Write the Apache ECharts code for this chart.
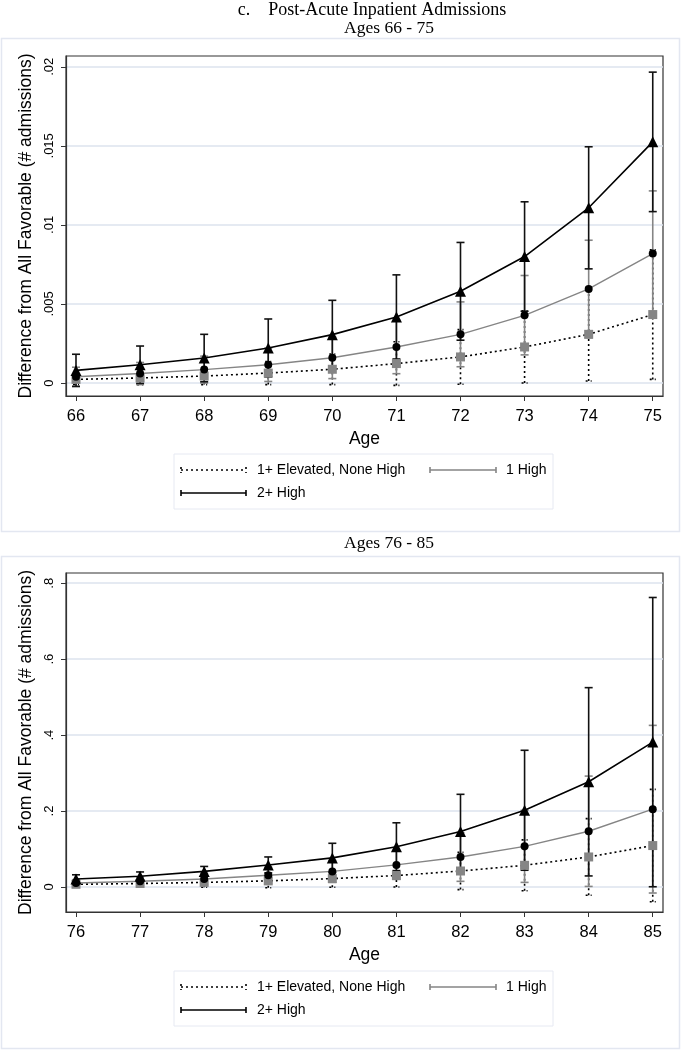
<!DOCTYPE html>
<html>
<head>
<meta charset="utf-8">
<script src="https://cdn.jsdelivr.net/npm/echarts@6/dist/echarts.min.js"></script>
<style>
html,body{margin:0;padding:0;background:#fff;}
#c{width:681px;height:1050px;}
</style>
</head>
<body>
<div id="c"></div>
<script>
// ---------- Data ----------
var ages1 = [66, 67, 68, 69, 70, 71, 72, 73, 74, 75];
var elev1   = [0.00023, 0.00032, 0.00044, 0.00063, 0.00087, 0.00123, 0.00165, 0.00228, 0.00308, 0.00433];
var elev1Lo = [-0.0001, -0.0001, -0.0001, -0.0001, -0.0001, -0.00015, -0.00008, 0.0, 0.00013, 0.00023];
var elev1Hi = [0.00056, 0.00074, 0.00098, 0.00136, 0.00184, 0.00261, 0.00338, 0.00456, 0.00603, 0.00843];
var high1   = [0.0004, 0.0006, 0.00085, 0.00116, 0.0016, 0.00228, 0.00308, 0.00428, 0.00595, 0.00819];
var high1Lo = [-0.0002, -0.0001, 0.0, 0.0001, 0.00028, 0.00059, 0.00103, 0.00178, 0.00287, 0.00423];
var high1Hi = [0.001, 0.0013, 0.0017, 0.0022, 0.0029, 0.00397, 0.00513, 0.0068, 0.00903, 0.01215];
var two1    = [0.0008, 0.00116, 0.00158, 0.00222, 0.00306, 0.00418, 0.0058, 0.008, 0.01108, 0.01525];
var two1Lo  = [-0.00022, -0.00002, 0.00008, 0.00039, 0.00089, 0.00152, 0.00271, 0.00454, 0.00722, 0.01084];
var two1Hi  = [0.00182, 0.00234, 0.00308, 0.00405, 0.00523, 0.00684, 0.00889, 0.01146, 0.01494, 0.01966];

var ages2 = [76, 77, 78, 79, 80, 81, 82, 83, 84, 85];
var elev2   = [0.007, 0.009, 0.012, 0.016, 0.022, 0.030, 0.042, 0.057, 0.079, 0.109];
var elev2Lo = [0.0, 0.0, -0.001, -0.002, -0.001, 0.0, -0.007, -0.010, -0.022, -0.039];
var elev2Hi = [0.014, 0.018, 0.025, 0.034, 0.045, 0.060, 0.091, 0.124, 0.180, 0.257];
var high2   = [0.0105, 0.015, 0.021, 0.031, 0.041, 0.058, 0.079, 0.107, 0.1467, 0.2048];
var high2Lo = [0.002, 0.004, 0.006, 0.010, 0.012, 0.020, 0.0148, 0.012, 0.0014, -0.016];
var high2Hi = [0.019, 0.026, 0.036, 0.052, 0.070, 0.096, 0.143, 0.202, 0.292, 0.4256];
var two2    = [0.021, 0.028, 0.041, 0.058, 0.0765, 0.106, 0.146, 0.202, 0.277, 0.3815];
var two2Lo  = [0.010, 0.0165, 0.028, 0.037, 0.038, 0.043, 0.048, 0.044, 0.029, 0.0005];
var two2Hi  = [0.032, 0.0395, 0.054, 0.079, 0.115, 0.169, 0.244, 0.360, 0.525, 0.7625];

var yTicks1 = [0, 0.005, 0.01, 0.015, 0.02];
var yTickLabels1 = ['0', '.005', '.01', '.015', '.02'];
var yTicks2 = [0, 0.2, 0.4, 0.6, 0.8];
var yTickLabels2 = ['0', '.2', '.4', '.6', '.8'];

var mainTitle = 'c.    Post-Acute Inpatient Admissions';
var subTitle1 = 'Ages 66 - 75';
var subTitle2 = 'Ages 76 - 85';
var yName = 'Difference from All Favorable (# admissions)';
var xName = 'Age';
var seriesNames = ['1+ Elevated, None High', '1 High', '2+ High'];

// ---------- Helpers ----------
var GRAY = '#858585';
var BLACK = '#000000';
var SANS = 'Liberation Sans, Arial, sans-serif';
var SERIF = 'Liberation Serif, Times New Roman, serif';

function zip(x, a) { return x.map(function (v, i) { return [v, a[i]]; }); }
function zip3(x, a, b) { return x.map(function (v, i) { return [v, a[i], b[i]]; }); }

function ebRender(color, dash, cap) {
  return function (params, api) {
    var x = api.value(0), lo = api.value(1), hi = api.value(2);
    var p1 = api.coord([x, lo]), p2 = api.coord([x, hi]);
    var st = { stroke: color, lineWidth: 1.6, lineDash: dash };
    return {
      type: 'group',
      children: [
        { type: 'line', shape: { x1: p1[0], y1: p1[1], x2: p2[0], y2: p2[1] }, style: st },
        { type: 'line', shape: { x1: p1[0] - cap, y1: p1[1], x2: p1[0] + cap, y2: p1[1] }, style: st },
        { type: 'line', shape: { x1: p2[0] - cap, y1: p2[1], x2: p2[0] + cap, y2: p2[1] }, style: st }
      ]
    };
  };
}

function makeAxes(idx, xmin, xmax, ages, ymin, ymax, yt, ytl) {
  var x = {
    type: 'value', gridIndex: idx, min: xmin, max: xmax,
    name: xName, nameLocation: 'middle', nameGap: 34,
    nameTextStyle: { fontFamily: SANS, fontSize: 17.5, color: '#000' },
    axisLine: { show: true, onZero: false, lineStyle: { color: '#333', width: 1.2 } },
    axisTick: { show: true, length: 5, customValues: ages, lineStyle: { color: '#333' } },
    axisLabel: { customValues: ages, fontFamily: SANS, fontSize: 16.5, color: '#000', margin: 12 },
    splitLine: { show: false }
  };
  var y = {
    type: 'value', gridIndex: idx, min: ymin, max: ymax,
    name: yName, nameLocation: 'middle', nameRotate: 90, nameGap: 29,
    nameTextStyle: { fontFamily: SANS, fontSize: 17.5, color: '#000' },
    axisLine: { show: true, lineStyle: { color: '#333', width: 1.2 } },
    axisTick: { show: true, length: 5, customValues: yt, lineStyle: { color: '#333' } },
    axisLabel: {
      customValues: yt, rotate: 90, fontFamily: SANS, fontSize: 13, color: '#000', margin: 10,
      formatter: function (v) {
        for (var i = 0; i < yt.length; i++) { if (Math.abs(yt[i] - v) < 1e-9) return ytl[i]; }
        return '';
      }
    },
    splitLine: { show: true, lineStyle: { color: '#dde3ee', width: 1.5 } }
  };
  return [x, y];
}

function makeSeries(idx, ages, e, eL, eH, h, hL, hH, t, tL, tH) {
  return [
    { type: 'custom', xAxisIndex: idx, yAxisIndex: idx, renderItem: ebRender(BLACK, [2, 3], 3), data: zip3(ages, eL, eH), z: 2, silent: true },
    { type: 'custom', xAxisIndex: idx, yAxisIndex: idx, renderItem: ebRender(GRAY, null, 4), data: zip3(ages, hL, hH), z: 3, silent: true },
    { type: 'custom', xAxisIndex: idx, yAxisIndex: idx, renderItem: ebRender('#111', null, 4), data: zip3(ages, tL, tH), z: 4, silent: true },
    { name: seriesNames[0], type: 'line', xAxisIndex: idx, yAxisIndex: idx, data: zip(ages, e), z: 5,
      symbol: 'rect', symbolSize: 9, itemStyle: { color: GRAY }, lineStyle: { color: BLACK, width: 1.6, type: [2, 3] } },
    { name: seriesNames[1], type: 'line', xAxisIndex: idx, yAxisIndex: idx, data: zip(ages, h), z: 6,
      symbol: 'circle', symbolSize: 8, itemStyle: { color: BLACK }, lineStyle: { color: GRAY, width: 1.4 } },
    { name: seriesNames[2], type: 'line', xAxisIndex: idx, yAxisIndex: idx, data: zip(ages, t), z: 7,
      symbol: 'triangle', symbolSize: 11, itemStyle: { color: BLACK }, lineStyle: { color: BLACK, width: 1.6 } }
  ];
}

function legendGraphic(top) {
  var L = 174, W = 379, H = 55;
  var r1 = top + 16, r2 = top + 39;
  var x0 = 181, x1 = 246, x2 = 430, x3 = 496;
  function sym(xa, xb, y, color, dash, cap) {
    var st = { stroke: color, lineWidth: 1.6, lineDash: dash };
    return [
      { type: 'line', shape: { x1: xa, y1: y, x2: xb, y2: y }, style: st },
      { type: 'line', shape: { x1: xa, y1: y - cap, x2: xa, y2: y + cap }, style: st },
      { type: 'line', shape: { x1: xb, y1: y - cap, x2: xb, y2: y + cap }, style: st }
    ];
  }
  function txt(x, y, s) {
    return { type: 'text', x: x, y: y, style: { text: s, fontFamily: SANS, fontSize: 14, fill: '#000', verticalAlign: 'middle' } };
  }
  var els = [
    { type: 'rect', shape: { x: L, y: top, width: W, height: H }, style: { fill: '#fff', stroke: '#e6e9f2', lineWidth: 1 } }
  ];
  els = els.concat(sym(x0, x1, r1, BLACK, [2, 3], 3));
  els = els.concat(sym(x2, x3, r1, GRAY, null, 3));
  els = els.concat(sym(x0, x1, r2, BLACK, null, 3));
  els.push(txt(257, r1, seriesNames[0]));
  els.push(txt(506, r1, seriesNames[1]));
  els.push(txt(257, r2, seriesNames[2]));
  return els;
}

var ax1 = makeAxes(0, 65.844, 75.16, ages1, -0.00082, 0.02068, yTicks1, yTickLabels1);
var ax2 = makeAxes(1, 75.844, 85.16, ages2, -0.066, 0.827, yTicks2, yTickLabels2);

var graphics = [
  { type: 'rect', z: -10, shape: { x: 1.5, y: 38.5, width: 678, height: 493 }, style: { fill: '#fff', stroke: '#e3e7f1', lineWidth: 1.5 } },
  { type: 'rect', z: -10, shape: { x: 1.5, y: 556.5, width: 678, height: 492 }, style: { fill: '#fff', stroke: '#e3e7f1', lineWidth: 1.5 } },
  { type: 'text', x: 372, y: 10, style: { text: mainTitle, fontFamily: SERIF, fontSize: 18, fill: '#000', align: 'center', verticalAlign: 'middle' } },
  { type: 'text', x: 389, y: 28, style: { text: subTitle1, fontFamily: SERIF, fontSize: 17.5, fill: '#000', align: 'center', verticalAlign: 'middle' } },
  { type: 'text', x: 389, y: 543, style: { text: subTitle2, fontFamily: SERIF, fontSize: 17.5, fill: '#000', align: 'center', verticalAlign: 'middle' } }
].concat(legendGraphic(454)).concat(legendGraphic(971));

var chart = echarts.init(document.getElementById('c'), null, { renderer: 'canvas' });
chart.setOption({
  backgroundColor: '#fff',
  animation: false,
  grid: [
    { left: 66, top: 56, width: 597, height: 340, show: true, borderColor: '#333', borderWidth: 1.2, backgroundColor: 'transparent' },
    { left: 66, top: 573, width: 597, height: 339, show: true, borderColor: '#333', borderWidth: 1.2, backgroundColor: 'transparent' }
  ],
  xAxis: [ax1[0], ax2[0]],
  yAxis: [ax1[1], ax2[1]],
  graphic: graphics,
  series: makeSeries(0, ages1, elev1, elev1Lo, elev1Hi, high1, high1Lo, high1Hi, two1, two1Lo, two1Hi)
    .concat(makeSeries(1, ages2, elev2, elev2Lo, elev2Hi, high2, high2Lo, high2Hi, two2, two2Lo, two2Hi))
});
</script>
</body>
</html>
